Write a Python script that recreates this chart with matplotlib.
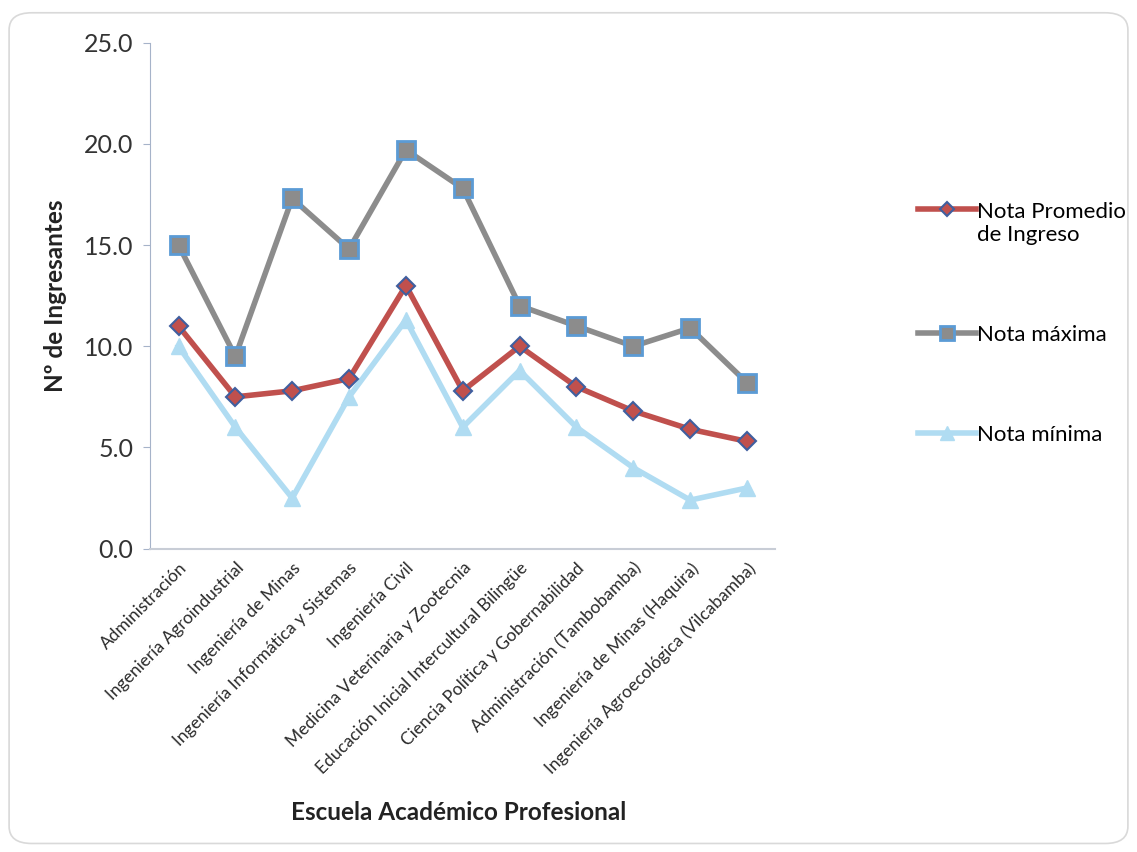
import matplotlib.pyplot as plt
from matplotlib.patches import FancyBboxPatch
from matplotlib.transforms import Affine2D

plt.rcParams['font.family'] = ['Lato', 'DejaVu Sans']

# data
escuelas = ["Administración", "Ingeniería Agroindustrial", "Ingeniería de Minas",
            "Ingeniería Informática y Sistemas", "Ingeniería Civil",
            "Medicina Veterinaria y Zootecnia", "Educación Inicial Intercultural Bilingüe",
            "Ciencia Política y Gobernabilidad", "Administración (Tambobamba)",
            "Ingeniería de Minas (Haquira)", "Ingeniería Agroecológica (Vilcabamba)"]
nota_promedio = [11.0, 7.5, 7.8, 8.4, 13.0, 7.8, 10.0, 8.0, 6.8, 5.9, 5.3]
nota_maxima = [15.0, 9.5, 17.3, 14.8, 19.7, 17.8, 12.0, 11.0, 10.0, 10.9, 8.2]
nota_minima = [10.0, 6.0, 2.5, 7.5, 11.3, 6.0, 8.8, 6.0, 4.0, 2.4, 3.0]
yticks = [0, 5, 10, 15, 20, 25]

fig = plt.figure(figsize=(11.37, 8.52), dpi=100)
ax = fig.add_axes([0.132, 0.356, 0.55, 0.594])

# rounded frame around the chart
frame = FancyBboxPatch((0.008, 0.01), 0.984, 0.975, boxstyle="round,pad=0,rounding_size=0.02",
                       transform=fig.transFigure, fill=False, edgecolor="#d9d9d9", linewidth=1.2)
fig.patches.append(frame)

x = list(range(len(escuelas)))
ax.plot(x, nota_promedio, color="#c0504d", lw=4, marker="D", ms=9,
        markerfacecolor="#c0504d", markeredgecolor="#3f5f9f", markeredgewidth=1.5,
        label="Nota Promedio\nde Ingreso", zorder=3)
ax.plot(x, nota_maxima, color="#8c8c8c", lw=4, marker="s", ms=13,
        markerfacecolor="#8c8c8c", markeredgecolor="#5b9bd5", markeredgewidth=2,
        label="Nota máxima", zorder=2)
ax.plot(x, nota_minima, color="#b0dcf2", lw=4, marker="^", ms=12,
        markerfacecolor="#b0dcf2", markeredgecolor="#b0dcf2",
        label="Nota mínima", zorder=1)

ax.set_xlim(-0.5, len(escuelas) - 0.5)
ax.set_ylim(0, 25)
ax.set_yticks(yticks)
ax.set_yticklabels([f"{v:.1f}" for v in yticks], fontsize=18, color="#333333")
ax.set_xticks(x)
ax.set_xticklabels(escuelas, rotation=45, ha="right", rotation_mode="anchor", fontsize=12.5,
                   color="#2a2a2a")
ax.tick_params(axis="x", length=0, pad=8)
ax.tick_params(axis="y", length=5, color="#a6b3c9", pad=7)

for s in ["top", "right"]:
    ax.spines[s].set_visible(False)
ax.spines["left"].set_color("#a6b3c9")
ax.spines["bottom"].set_color("#c8cdd6")
ax.spines["bottom"].set_linewidth(1.5)

ax.set_ylabel("Nº de Ingresantes", fontsize=17.5, fontweight="bold", color="#222222", labelpad=12)
fig.text(0.403, 0.038, "Escuela Académico Profesional", fontsize=17.5, fontweight="bold",
         color="#222222", ha="center")

leg = ax.legend(loc="upper left", bbox_to_anchor=(1.228, 0.686), frameon=False, fontsize=16,
                handlelength=2.6, handletextpad=0.05, labelspacing=3.6, markerscale=0.8,
                borderpad=0, borderaxespad=0)
# put the first handle level with the first line of its two-line label
h0 = leg.legend_handles[0]
h0.set_transform(h0.get_transform() + Affine2D().translate(0, 14))

fig.savefig("out.png", dpi=100)
